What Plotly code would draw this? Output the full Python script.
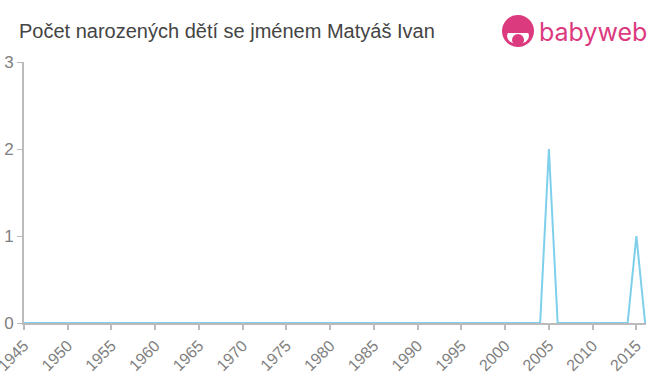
import plotly.graph_objects as go

years = list(range(1945, 2017))
peaks = {2005: 2, 2015: 1}
counts = [peaks.get(y, 0) for y in years]

title_text = "Počet narozených dětí se jménem Matyáš Ivan"
x_ticks = list(range(1945, 2016, 5))
y_ticks = [0, 1, 2, 3]

fig = go.Figure()
fig.add_trace(go.Scatter(
    x=years, y=counts, mode="lines",
    line=dict(color="#7ecfec", width=2),
    cliponaxis=False, hoverinfo="skip",
))

axis_col = "#bbbbbb"
fig.update_layout(
    width=660, height=375,
    margin=dict(l=24, r=14, t=62, b=52),
    paper_bgcolor="white", plot_bgcolor="white",
    showlegend=False,
    font=dict(family="Liberation Sans, Arial, sans-serif", color="#808080"),
    title=dict(text=title_text, x=19/660, xanchor="left", y=1-31/375, yanchor="middle",
               font=dict(size=20, color="#444444")),
    xaxis=dict(
        range=[1945, 2016.1], tickvals=x_ticks, ticktext=[str(v) for v in x_ticks],
        tickangle=-45, ticks="outside", ticklen=5, tickcolor=axis_col, tickwidth=2,
        showline=True, linecolor=axis_col, linewidth=2, showgrid=False, zeroline=False,
        tickfont=dict(size=16, color="#808080"), layer="below traces", automargin=False,
        ticklabeloverflow="allow",
    ),
    yaxis=dict(
        range=[0, 3], tickvals=y_ticks, ticks="outside", ticklen=5, tickcolor=axis_col,
        tickwidth=1, showline=True, linecolor=axis_col, linewidth=2, showgrid=False,
        zeroline=False, tickfont=dict(size=17, color="#808080"), layer="below traces",
        automargin=False, ticklabeloverflow="allow",
    ),
)

pink = "#dc3a7e"
# logo
fig.add_shape(type="circle", xref="paper", yref="paper",
              x0=(502-24)/622, x1=(534-24)/622, y0=(323-47)/261, y1=(323-15)/261,
              fillcolor=pink, line=dict(width=0), layer="above")
fig.add_shape(type="circle", xref="paper", yref="paper",
              x0=(507-24)/622, x1=(529-24)/622, y0=(323-44)/261, y1=(323-28)/261,
              fillcolor="white", line=dict(width=0), layer="above")
fig.add_shape(type="rect", xref="paper", yref="paper",
              x0=(506-24)/622, x1=(530-24)/622, y0=(323-33)/261, y1=(323-24)/261,
              fillcolor=pink, line=dict(width=0), layer="above")
fig.add_shape(type="circle", xref="paper", yref="paper",
              x0=(512-24)/622, x1=(524-24)/622, y0=(323-46)/261, y1=(323-34)/261,
              fillcolor=pink, line=dict(width=0), layer="above")
fig.add_annotation(text="babyweb", xref="paper", yref="paper",
                   x=(537-24)/622, y=(323-32)/261, xanchor="left", yanchor="middle",
                   showarrow=False, font=dict(size=25, color=pink,
                                              family="Inter, Liberation Sans, sans-serif"))

fig.write_html("out.html")
